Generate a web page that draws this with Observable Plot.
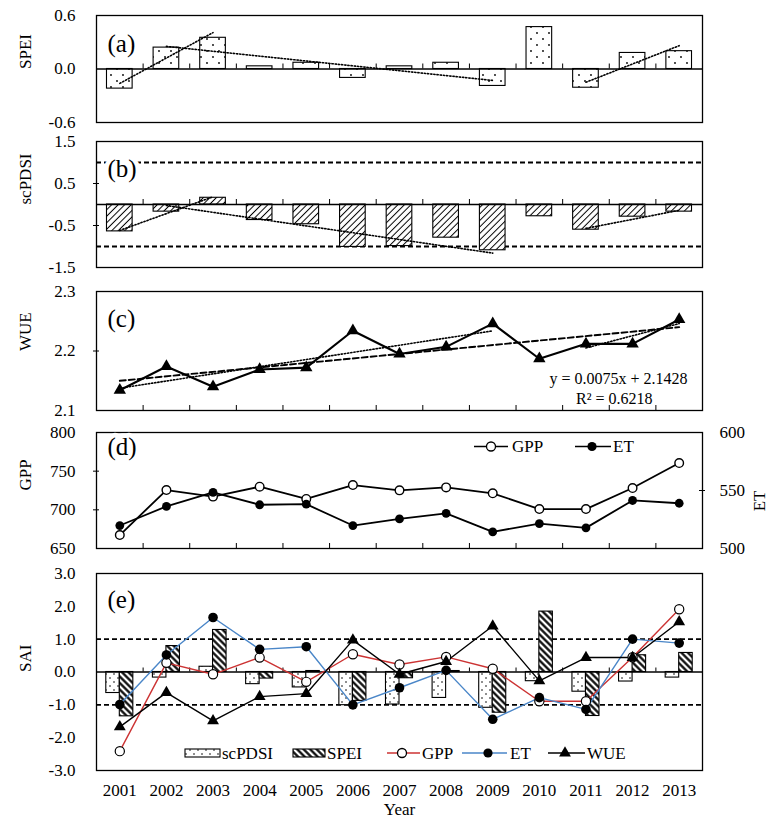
<!DOCTYPE html>
<html>
<head>
<meta charset="utf-8">
<script src="https://cdn.jsdelivr.net/npm/d3@7"></script>
<script src="https://cdn.jsdelivr.net/npm/@observablehq/plot@0.6"></script>
<style>
  body { margin: 0; background: #fff; }
  #chart { position: relative; width: 771px; height: 819px; font-family: "Liberation Serif", "Times New Roman", serif; }
  #chart > svg { position: absolute; left: 0; }
</style>
</head>
<body>
<div id="chart"></div>
<script>
// ---------------- data ----------------
const years = [2001, 2002, 2003, 2004, 2005, 2006, 2007, 2008, 2009, 2010, 2011, 2012, 2013];
const spei = [-0.22, 0.24, 0.35, 0.03, 0.07, -0.10, 0.03, 0.07, -0.19, 0.47, -0.21, 0.18, 0.20];
const scpdsi = [-0.64, -0.17, 0.16, -0.37, -0.47, -1.01, -0.99, -0.79, -1.09, -0.28, -0.60, -0.29, -0.17];
const wue = [2.134, 2.174, 2.140, 2.169, 2.172, 2.234, 2.195, 2.207, 2.246, 2.187, 2.212, 2.212, 2.253];
const gpp = [667.4, 725.6, 717.1, 729.9, 714.1, 732.0, 725.2, 729.0, 721.4, 701.0, 701.0, 728.2, 760.5];
const et = [519.8, 536.3, 548.4, 537.7, 538.2, 519.8, 525.5, 530.3, 514.4, 521.5, 517.8, 541.4, 539.0];
// standardized anomaly indices (panel e)
const saiSpei = [-1.35, 0.79, 1.28, -0.20, 0.03, -0.88, -0.19, 0.03, -1.24, 1.84, -1.34, 0.51, 0.58];
const saiGpp = [-2.41, 0.28, -0.07, 0.44, -0.30, 0.54, 0.23, 0.46, 0.10, -0.89, -0.89, 0.45, 1.91];
const saiEt = [-0.99, 0.52, 1.66, 0.69, 0.77, -1.00, -0.48, 0.05, -1.44, -0.78, -1.14, 1.00, 0.88];
const saiWue = [-1.67, -0.63, -1.49, -0.75, -0.66, 0.97, -0.07, 0.32, 1.40, -0.27, 0.44, 0.44, 1.53];
// trend segments (year ranges)
const trendA = [[2001, 2003], [2002, 2009], [2011, 2013]];
const trendB = [[2001, 2003], [2002, 2009], [2011, 2013]];
const trendC = [[2001, 2009], [2011, 2013]];
// tick labels
const ticksA = [-0.6, 0, 0.6];
const ticksB = [-1.5, -0.5, 0.5, 1.5];
const ticksC = [2.1, 2.2, 2.3];
const ticksGpp = [650, 700, 750, 800];
const ticksEt = [500, 550, 600];
const ticksE = [-3, -2, -1, 0, 1, 2, 3];
const eqText = "y = 0.0075x + 2.1428";
const r2Text = "R² = 0.6218";

// ---------------- helpers ----------------
const chart = document.getElementById("chart");
const W = 771, ML = 96, MR = 69, FW = W - ML - MR;
const xDomain = [2000.5, 2013.5];
const bounds = years.slice(0, -1).map(y => y + 0.5);
const rows = vals => years.map((year, i) => ({year, v: vals[i]}));
const per = (px, dom, h) => px * (dom[1] - dom[0]) / h;
const ux = per(3, xDomain, FW);
const style = {fontFamily: "'Liberation Serif', 'Times New Roman', serif", fontSize: "17px", color: "#000", background: "transparent", overflow: "visible"};

function fitLine([s, e], ys) {
  const X = [], Y = [];
  years.forEach((x, i) => { if (x >= s && x <= e) { X.push(x); Y.push(ys[i]); } });
  const mx = d3.mean(X), my = d3.mean(Y);
  const b = d3.sum(X, (x, k) => (x - mx) * (Y[k] - my)) / d3.sum(X, x => (x - mx) ** 2);
  const a = my - b * mx;
  return [{x: X[0], y: a + b * X[0]}, {x: X[X.length - 1], y: a + b * X[X.length - 1]}];
}
const dotted = {x: "x", y: "y", stroke: "#000", strokeWidth: 1.6, strokeDasharray: "1.3 1.9"};
function place(svg, top) { svg.style.top = top + "px"; chart.appendChild(svg); }
function yCross(ticks) {
  return Plot.ruleY(ticks, {x1: () => xDomain[0] - ux, x2: () => xDomain[0] + ux, stroke: "#000", strokeWidth: 1});
}
const label = (t, dy) => Plot.text([t], {text: d => d, frameAnchor: "top-left", dx: 11, dy, fontSize: 25, textAnchor: "start", lineAnchor: "middle", fill: "#000", stroke: "#fff", strokeWidth: 9});
const ytitle = t => Plot.text([t], {text: d => d, frameAnchor: "left", dx: -71, rotate: -90, fontSize: 17, lineAnchor: "middle"});

// ---------------- panel (a) ----------------
{
  const H = 131, mt = 15, mb = 9, dom = [-0.6, 0.6], fh = H - mt - mb;
  place(Plot.plot({
    width: W, height: H, marginLeft: ML, marginRight: MR, marginTop: mt, marginBottom: mb, style,
    x: {domain: xDomain, axis: null},
    y: {domain: dom, ticks: ticksA, tickFormat: d => d.toFixed(1), tickSize: 0, tickPadding: 21, label: null},
    marks: [
      Plot.rect(rows(spei), {x1: d => d.year - 0.275, x2: d => d.year + 0.275, y1: () => 0, y2: d => d.v, fill: "url(#dotsA)", stroke: "#000", strokeWidth: 1.1}),
      Plot.ruleY([0], {stroke: "#000", strokeWidth: 1.4}),
      Plot.ruleX(bounds, {y1: () => 0, y2: () => per(5, dom, fh), stroke: "#000", strokeWidth: 1}),
      ...trendA.map(seg => Plot.line(fitLine(seg, spei), dotted)),
      Plot.frame({stroke: "#000", strokeWidth: 1.3}),
      label("(a)", 28),
      ytitle("SPEI")
    ]
  }), 0);
}

// ---------------- panel (b) ----------------
{
  const H = 149, mt = 10, mb = 13, dom = [-1.5, 1.5], fh = H - mt - mb;
  place(Plot.plot({
    width: W, height: H, marginLeft: ML, marginRight: MR, marginTop: mt, marginBottom: mb, style,
    x: {domain: xDomain, axis: null},
    y: {domain: dom, ticks: ticksB, tickFormat: d => d.toFixed(1), tickSize: 0, tickPadding: 21, label: null},
    marks: [
      Plot.ruleY([-1, 1], {stroke: "#000", strokeWidth: 1.8, strokeDasharray: "5 3"}),
      Plot.rect(rows(scpdsi), {x1: d => d.year - 0.275, x2: d => d.year + 0.275, y1: () => 0, y2: d => d.v, fill: "url(#hatchB)", stroke: "#000", strokeWidth: 1.1}),
      Plot.ruleY([0], {stroke: "#000", strokeWidth: 1.4}),
      Plot.ruleX(bounds, {y1: () => 0, y2: () => per(5, dom, fh), stroke: "#000", strokeWidth: 1}),
      yCross([-0.5, 0.5]),
      ...trendB.map(seg => Plot.line(fitLine(seg, scpdsi), dotted)),
      Plot.frame({stroke: "#000", strokeWidth: 1.3}),
      label("(b)", 27),
      ytitle("scPDSI")
    ]
  }), 131);
}

// ---------------- panel (c) ----------------
{
  const H = 141, mt = 11, mb = 11, dom = [2.1, 2.3], fh = H - mt - mb;
  place(Plot.plot({
    width: W, height: H, marginLeft: ML, marginRight: MR, marginTop: mt, marginBottom: mb, style,
    x: {domain: xDomain, axis: null},
    y: {domain: dom, ticks: ticksC, tickFormat: d => d.toFixed(1), tickSize: 0, tickPadding: 21, label: null},
    marks: [
      Plot.ruleX(bounds, {y1: () => dom[0], y2: () => dom[0] + per(5, dom, fh), stroke: "#000", strokeWidth: 1}),
      yCross([2.2]),
      Plot.line(fitLine([2001, 2013], wue), {x: "x", y: "y", stroke: "#000", strokeWidth: 1.9, strokeDasharray: "6 3"}),
      ...trendC.map(seg => Plot.line(fitLine(seg, wue), dotted)),
      Plot.line(rows(wue), {x: "year", y: "v", stroke: "#000", strokeWidth: 2.1}),
      Plot.dot(rows(wue), {x: "year", y: "v", symbol: "triangle", r: 4.6, fill: "#000"}),
      Plot.text([eqText], {text: d => d, frameAnchor: "bottom-right", dx: -15, dy: -32, textAnchor: "end", lineAnchor: "middle", fontSize: 16}),
      Plot.text([r2Text], {text: d => d, frameAnchor: "bottom-right", dx: -50, dy: -12, textAnchor: "end", lineAnchor: "middle", fontSize: 16}),
      Plot.frame({stroke: "#000", strokeWidth: 1.3}),
      label("(c)", 27),
      ytitle("WUE")
    ]
  }), 280);
}

// ---------------- panel (d) ----------------
{
  const H = 139, mt = 11, mb = 12, dom = [650, 800], fh = H - mt - mb;
  const etY = v => dom[0] + (v - ticksEt[0]) * (dom[1] - dom[0]) / (ticksEt[2] - ticksEt[0]);
  place(Plot.plot({
    width: W, height: H, marginLeft: ML, marginRight: MR, marginTop: mt, marginBottom: mb, style,
    x: {domain: xDomain, axis: null},
    y: {domain: dom, ticks: ticksGpp, tickFormat: d => String(d), tickSize: 0, tickPadding: 21, label: null},
    marks: [
      Plot.ruleX(bounds, {y1: () => dom[0], y2: () => dom[0] + per(5, dom, fh), stroke: "#000", strokeWidth: 1}),
      yCross([700, 750]),
      Plot.ruleY([etY(550)], {x1: () => xDomain[1] - ux, x2: () => xDomain[1] + ux, stroke: "#000", strokeWidth: 1}),
      Plot.text(ticksEt, {y: d => etY(d), text: d => String(d), frameAnchor: "right", dx: 17, textAnchor: "start", fontSize: 17}),
      Plot.text(["ET"], {text: d => d, frameAnchor: "right", dx: 57, rotate: -90, fontSize: 17}),
      Plot.line(rows(gpp), {x: "year", y: "v", stroke: "#000", strokeWidth: 1.8}),
      Plot.line(rows(et), {x: "year", y: d => etY(d.v), stroke: "#000", strokeWidth: 1.8}),
      Plot.dot(rows(gpp), {x: "year", y: "v", r: 4.3, fill: "#fff", stroke: "#000", strokeWidth: 1.4}),
      Plot.dot(rows(et), {x: "year", y: d => etY(d.v), r: 4.4, fill: "#000"}),
      Plot.frame({stroke: "#000", strokeWidth: 1.3}),
      label("(d)", 14),
      ytitle("GPP")
    ]
  }), 421);
}

// ---------------- panel (e) ----------------
const RED = "#cc3333", BLUE = "#4a86c8";
{
  const H = 259, mt = 13, mb = 49, dom = [-3, 3], fh = H - mt - mb;
  place(Plot.plot({
    width: W, height: H, marginLeft: ML, marginRight: MR, marginTop: mt, marginBottom: mb, style,
    x: {domain: xDomain, ticks: years, tickFormat: d => String(d), tickSize: 0, tickPadding: 13, label: null},
    y: {domain: dom, ticks: ticksE, tickFormat: d => d.toFixed(1), tickSize: 0, tickPadding: 21, label: null},
    marks: [
      Plot.ruleY([-1, 1], {stroke: "#000", strokeWidth: 1.8, strokeDasharray: "5 3"}),
      Plot.rect(rows(scpdsi), {x1: d => d.year - 0.29, x2: d => d.year, y1: () => 0, y2: d => d.v, fill: "url(#dotsE)", stroke: "#000", strokeWidth: 1.1}),
      Plot.rect(rows(saiSpei), {x1: d => d.year, x2: d => d.year + 0.29, y1: () => 0, y2: d => d.v, fill: "url(#hatchE)", stroke: "#000", strokeWidth: 1.1}),
      Plot.ruleY([0], {stroke: "#000", strokeWidth: 1.4}),
      Plot.ruleX(bounds, {y1: () => 0, y2: () => per(4, dom, fh), stroke: "#000", strokeWidth: 1}),
      Plot.line(rows(saiGpp), {x: "year", y: "v", stroke: RED, strokeWidth: 1.4}),
      Plot.line(rows(saiEt), {x: "year", y: "v", stroke: BLUE, strokeWidth: 1.4}),
      Plot.line(rows(saiWue), {x: "year", y: "v", stroke: "#000", strokeWidth: 1.4}),
      Plot.dot(rows(saiGpp), {x: "year", y: "v", r: 4.6, fill: "#fff", stroke: "#000", strokeWidth: 1.2}),
      Plot.dot(rows(saiEt), {x: "year", y: "v", r: 4.8, fill: "#000"}),
      Plot.dot(rows(saiWue), {x: "year", y: "v", symbol: "triangle", r: 4.4, fill: "#000"}),
      Plot.frame({stroke: "#000", strokeWidth: 1.3}),
      label("(e)", 26),
      ytitle("SAI"),
      Plot.text(["Year"], {text: d => d, frameAnchor: "bottom", dy: 39, lineAnchor: "middle", fontSize: 17})
    ]
  }), 560);
}

// ---------------- overlay: patterns + legends ----------------
const ov = d3.create("svg").attr("width", W).attr("height", 819).style("top", "0px").style("pointer-events", "none")
  .style("font-family", "'Liberation Serif', 'Times New Roman', serif").style("font-size", "17px");
const defs = ov.append("defs");
function dots(id, size, r) {
  const p = defs.append("pattern").attr("id", id).attr("width", size).attr("height", size).attr("patternUnits", "userSpaceOnUse");
  p.append("rect").attr("width", size).attr("height", size).attr("fill", "#fff");
  p.append("circle").attr("cx", size / 4).attr("cy", size / 4).attr("r", r).attr("fill", "#000");
  p.append("circle").attr("cx", 3 * size / 4).attr("cy", 3 * size / 4).attr("r", r).attr("fill", "#000");
}
function hatch(id, size, sw, angle) {
  const p = defs.append("pattern").attr("id", id).attr("width", size).attr("height", size).attr("patternUnits", "userSpaceOnUse").attr("patternTransform", `rotate(${angle})`);
  p.append("rect").attr("width", size).attr("height", size).attr("fill", "#fff");
  p.append("line").attr("x1", size / 2).attr("x2", size / 2).attr("y1", 0).attr("y2", size).attr("stroke", "#000").attr("stroke-width", sw);
}
dots("dotsA", 12, 0.9);
dots("dotsE", 8, 0.8);
hatch("hatchB", 4.6, 1, 45);
hatch("hatchE", 4.6, 2.2, -45);

const tri = d3.symbol(d3.symbolTriangle, Math.PI * 4.4 * 4.4)();
function legLine(g, x1, x2, y, color, marker, mx, text, tx) {
  g.append("line").attr("x1", x1).attr("x2", x2).attr("y1", y).attr("y2", y).attr("stroke", color).attr("stroke-width", 1.6);
  if (marker === "open") g.append("circle").attr("cx", mx).attr("cy", y).attr("r", 4.5).attr("fill", "#fff").attr("stroke", "#000").attr("stroke-width", 1.3);
  if (marker === "fill") g.append("circle").attr("cx", mx).attr("cy", y).attr("r", 4.6).attr("fill", "#000");
  if (marker === "tri") g.append("path").attr("d", tri).attr("transform", `translate(${mx},${y})`).attr("fill", "#000");
  g.append("text").attr("x", tx).attr("y", y).attr("dy", "0.35em").text(text);
}
const lg = ov.append("g");
// legend (d)
legLine(lg, 474, 508, 446.5, "#000", "open", 491, "GPP", 512);
legLine(lg, 575, 611, 446.5, "#000", "fill", 592, "ET", 613);
// legend (e)
lg.append("rect").attr("x", 185).attr("y", 749).attr("width", 35).attr("height", 8).attr("fill", "url(#dotsE)").attr("stroke", "#000").attr("stroke-width", 1.1);
lg.append("text").attr("x", 222).attr("y", 753).attr("dy", "0.35em").text("scPDSI");
lg.append("rect").attr("x", 293).attr("y", 749).attr("width", 32).attr("height", 8).attr("fill", "url(#hatchE)").attr("stroke", "#000").attr("stroke-width", 1.1);
lg.append("text").attr("x", 327).attr("y", 753).attr("dy", "0.35em").text("SPEI");
legLine(lg, 387, 420, 753, RED, "open", 402, "GPP", 422);
legLine(lg, 462, 507, 753, BLUE, "fill", 488, "ET", 510);
legLine(lg, 548, 585, 753, "#000", "tri", 565, "WUE", 587);
chart.appendChild(ov.node());
</script>
</body>
</html>
